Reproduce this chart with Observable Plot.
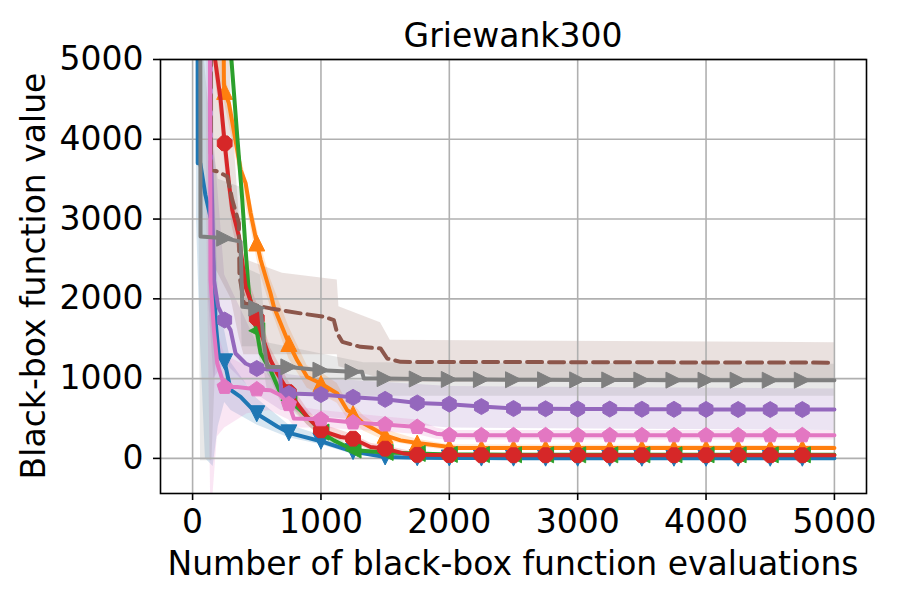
<!DOCTYPE html>
<html><head><meta charset="utf-8">
<script src="https://cdn.jsdelivr.net/npm/d3@7"></script>
<script src="https://cdn.jsdelivr.net/npm/@observablehq/plot@0.6"></script>
<style>body{margin:0;background:#fff} svg{display:block}</style>
</head><body><div id="chart"></div>
<script>
const title = "Griewank300";
const xLabel = "Number of black-box function evaluations";
const yLabel = "Black-box function value";
const xTicks = [0, 1000, 2000, 3000, 4000, 5000];
const yTicks = [0, 1000, 2000, 3000, 4000, 5000];
const xDomain = [-250, 5250];
const yDomain = [-440, 5000];
const markerEvery = 250;

// [evaluations, value]
const blue = [[30,20000],[40,3700],[60,3700],[100,3300],[150,2950],[165,2250],[180,1700],[205,1270],[250,1210],[296,860],[374,770],[500,560],[660,400],[750,320],[1000,215],[1250,85],[1500,18],[1750,8],[2000,5],[2250,4],[2500,3],[2750,3],[3000,2],[3250,2],[3500,2],[3750,2],[4000,2],[4250,2],[4500,2],[4750,2],[5000,2]];
const orange = [[190,20000],[244,4700],[250,4600],[283,4450],[322,4100],[374,3620],[413,3450],[452,3075],[500,2700],[530,2490],[607,2070],[633,1900],[750,1440],[815,1230],[893,1020],[1000,938],[1127,813],[1205,603],[1250,561],[1334,436],[1500,289],[1620,226],[1750,192],[1955,151],[2000,140],[2050,130],[2250,130],[2500,130],[2750,130],[3000,130],[3250,130],[3500,130],[3750,130],[4000,130],[4250,130],[4500,130],[4750,130],[5000,130]];
const green = [[280,20000],[300,5050],[348,4036],[387,3241],[413,2613],[439,2069],[500,1600],[530,1318],[607,1106],[685,813],[750,729],[841,603],[945,436],[1000,330],[1100,226],[1205,142],[1250,105],[1440,80],[1500,75],[1750,62],[2000,50],[2250,48],[2500,46],[2750,45],[3000,45],[3250,45],[3500,45],[3750,45],[4000,45],[4250,45],[4500,45],[4750,45],[5000,45]];
const red = [[160,20000],[175,5000],[218,4500],[250,3950],[283,3450],[309,3116],[361,2780],[413,2152],[500,1755],[543,1524],[607,1231],[660,1064],[750,830],[815,687],[893,519],[1000,352],[1153,268],[1250,247],[1386,142],[1500,122],[1650,60],[1750,45],[2000,42],[2250,40],[2500,40],[2750,40],[3000,40],[3250,40],[3500,40],[3750,40],[4000,40],[4250,40],[4500,40],[4750,40],[5000,40]];
const purple = [[125,20000],[140,4036],[166,2236],[200,1900],[250,1734],[296,1608],[335,1315],[413,1190],[500,1127],[680,1106],[690,833],[750,813],[1000,800],[1250,765],[1500,740],[1750,695],[2000,680],[2250,650],[2500,625],[2750,622],[3000,620],[3250,618],[3500,616],[3750,615],[4000,614],[4250,613],[4500,612],[4750,612],[5000,612]];
const brown = [[140,20000],[142,3618],[192,3597],[270,3534],[309,3241],[361,2948],[365,2300],[400,1943],[478,1922],[607,1880],[841,1818],[1023,1775],[1100,1734],[1127,1567],[1166,1461],[1308,1398],[1464,1378],[1516,1252],[1620,1210],[5000,1200]];
const pink = [[110,20000],[140,2236],[166,1608],[192,1190],[250,896],[348,896],[500,865],[607,854],[685,791],[750,680],[789,500],[1000,490],[1250,450],[1500,425],[1750,393],[1900,310],[2000,292],[2250,289],[2500,289],[2750,289],[3000,289],[3250,289],[3500,289],[3750,289],[4000,289],[4250,289],[4500,289],[4750,289],[5000,289]];
const gray = [[50,20000],[62,2780],[250,2760],[374,2717],[387,1900],[500,1884],[530,1884],[556,1440],[582,1147],[750,1147],[1000,1106],[1250,1085],[1320,1085],[1334,1001],[1500,1000],[1750,995],[2000,990],[2250,988],[2500,986],[2750,985],[3000,984],[3250,983],[3500,982],[3750,981],[4000,980],[4250,980],[4500,980],[4750,980],[5000,980]];

// [evaluations, lower, upper]
const blueBand = [[30,3000,20000],[60,1500,12000],[100,0,8000],[160,-100,4000],[200,400,2000],[250,700,1600],[300,600,1200],[500,420,750],[750,260,420],[1000,170,290],[1250,50,140],[1500,0,50],[2000,-5,20],[5000,-10,15]];
const orangeBand = [[190,5000,20000],[244,4500,4900],[322,3900,4300],[374,3450,3800],[452,2900,3250],[500,2500,2900],[530,2300,2680],[607,1900,2250],[750,1250,1650],[893,880,1160],[1000,800,1080],[1127,690,940],[1205,500,700],[1250,450,680],[1334,340,530],[1500,220,360],[1750,150,240],[2000,100,170],[5000,100,160]];
const greenBand = [[280,5200,20000],[300,4900,5300],[348,3900,4200],[387,3100,3400],[413,2450,2750],[439,1950,2200],[500,1450,1750],[530,1200,1450],[607,1000,1220],[685,720,900],[750,640,820],[1000,260,400],[1250,80,130],[1500,55,95],[2000,35,65],[5000,30,60]];
const redBand = [[160,5200,20000],[175,4800,5200],[218,4250,4750],[250,3700,4200],[309,2900,3350],[361,2550,3000],[413,1950,2350],[500,1550,1950],[607,1080,1380],[750,700,960],[893,420,620],[1000,280,430],[1250,190,300],[1386,100,190],[1500,80,160],[1750,25,70],[2000,25,60],[5000,25,55]];
const purpleBand = [[125,2000,20000],[166,1000,4000],[250,1200,2300],[500,800,1450],[690,600,1100],[750,600,1050],[1000,520,1000],[1500,450,950],[2000,380,900],[5000,350,870]];
const brownBand = [[140,2500,20000],[300,2000,4500],[365,1500,3000],[400,1300,2500],[700,1300,2320],[1127,1300,2236],[1140,1150,1900],[1464,1000,1700],[1540,950,1480],[5000,950,1450]];
const pinkBand = [[110,3000,20000],[140,-440,6000],[160,-440,3000],[192,268,1600],[250,380,1300],[426,561,1150],[600,600,1050],[750,480,900],[800,380,650],[1000,380,600],[1500,330,520],[1750,300,480],[1900,240,380],[2000,230,350],[5000,230,350]];
const grayBand = [[50,3000,20000],[62,-30,5500],[150,-30,4000],[200,2000,3500],[374,2000,3400],[387,1400,2400],[530,1400,2300],[582,850,1450],[1334,780,1200],[5000,780,1180]];

// marker shapes (matplotlib-like)
function polygon(n) {
  return {draw(ctx, size) {
    const R = Math.sqrt(size / Math.PI);
    for (let i = 0; i < n; i++) {
      const a = (n === 8 ? Math.PI / 8 : 0) + 2 * Math.PI * i / n;
      const px = R * Math.sin(a), py = -R * Math.cos(a);
      if (i) ctx.lineTo(px, py); else ctx.moveTo(px, py);
    }
    ctx.closePath();
  }};
}
function triangle(dir) {
  return {draw(ctx, size) {
    const R = Math.sqrt(size / Math.PI);
    const pts = {
      up: [[0,-R],[-R,R],[R,R]],
      down: [[0,R],[-R,-R],[R,-R]],
      left: [[-R,0],[R,-R],[R,R]],
      right: [[R,0],[-R,-R],[-R,R]]
    }[dir];
    ctx.moveTo(pts[0][0], pts[0][1]);
    ctx.lineTo(pts[1][0], pts[1][1]);
    ctx.lineTo(pts[2][0], pts[2][1]);
    ctx.closePath();
  }};
}

const series = [
  {data: blue, band: blueBand, color: "#1f77b4", symbol: triangle("down")},
  {data: orange, band: orangeBand, color: "#ff7f0e", symbol: triangle("up")},
  {data: green, band: greenBand, color: "#2ca02c", symbol: triangle("left")},
  {data: red, band: redBand, color: "#d62728", symbol: polygon(8)},
  {data: purple, band: purpleBand, color: "#9467bd", symbol: polygon(6)},
  {data: brown, band: brownBand, color: "#8c564b", symbol: null, dash: "15,7"},
  {data: pink, band: pinkBand, color: "#e377c2", symbol: polygon(5)},
  {data: gray, band: grayBand, color: "#7f7f7f", symbol: triangle("right")}
];

const marks = [];
for (const s of series) {
  marks.push(Plot.areaY(s.band, {x: d => d[0], y1: d => d[1], y2: d => d[2], fill: s.color, fillOpacity: 0.18, clip: true}));
}
marks.push(Plot.gridX({ticks: xTicks, stroke: "#b0b0b0", strokeOpacity: 1, strokeWidth: 1.6}));
marks.push(Plot.gridY({ticks: yTicks, stroke: "#b0b0b0", strokeOpacity: 1, strokeWidth: 1.6}));
for (const s of series) {
  marks.push(Plot.line(s.data, {x: d => d[0], y: d => d[1], stroke: s.color, strokeWidth: 4, strokeDasharray: s.dash, strokeLinejoin: "round", clip: true}));
  if (s.symbol) {
    const pts = s.data.filter(d => d[0] > 0 && d[0] < 5000 && d[0] % markerEvery === 0);
    marks.push(Plot.dot(pts, {x: d => d[0], y: d => d[1], symbol: s.symbol, r: 8, fill: s.color, stroke: s.color, strokeWidth: 1, clip: true}));
  }
}
marks.push(Plot.axisX({ticks: xTicks, tickSize: 7, tickPadding: 9, tickFormat: d3.format("d"), label: null, strokeWidth: 1.6}));
marks.push(Plot.axisY({ticks: yTicks, tickSize: 7, tickPadding: 10, tickFormat: d3.format("d"), label: null, strokeWidth: 1.6}));
marks.push(Plot.frame({stroke: "black", strokeWidth: 1.6}));

const chart = Plot.plot({
  width: 900, height: 600,
  marginLeft: 160, marginRight: 34, marginTop: 59, marginBottom: 107,
  x: {domain: xDomain},
  y: {domain: yDomain},
  style: {fontFamily: "DejaVu Sans", fontSize: "33px", color: "black", background: "white"},
  marks
});
const svg = d3.select(chart);
svg.append("text").attr("x", 513).attr("y", 47).attr("text-anchor", "middle")
  .attr("font-size", 33).attr("font-family", "DejaVu Sans").attr("fill", "black").text(title);
svg.append("text").attr("x", 513).attr("y", 575).attr("text-anchor", "middle")
  .attr("font-size", 33).attr("font-family", "DejaVu Sans").attr("fill", "black").text(xLabel);
svg.append("text").attr("transform", "translate(45,276) rotate(-90)").attr("text-anchor", "middle")
  .attr("font-size", 33).attr("font-family", "DejaVu Sans").attr("fill", "black").text(yLabel);
document.getElementById("chart").append(chart);
</script>
</body></html>
